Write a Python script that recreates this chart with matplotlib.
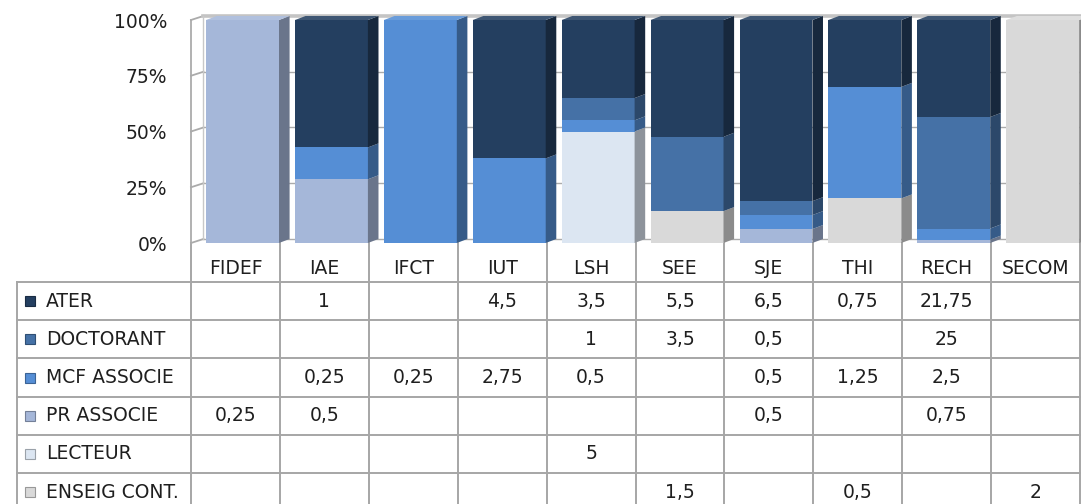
import matplotlib
matplotlib.use("Agg")
import matplotlib.pyplot as plt
from matplotlib.patches import Polygon, Rectangle
import numpy as np

# ---------------- data ----------------
categories = ["FIDEF", "IAE", "IFCT", "IUT", "LSH", "SEE", "SJE", "THI", "RECH", "SECOM"]
series_names = ["ATER", "DOCTORANT", "MCF ASSOCIE", "PR ASSOCIE", "LECTEUR", "ENSEIG CONT."]
ater      = [None, 1, None, 4.5, 3.5, 5.5, 6.5, 0.75, 21.75, None]
doctorant = [None, None, None, None, 1, 3.5, 0.5, None, 25, None]
mcf       = [None, 0.25, 0.25, 2.75, 0.5, None, 0.5, 1.25, 2.5, None]
pr        = [0.25, 0.5, None, None, None, None, 0.5, None, 0.75, None]
lecteur   = [None, None, None, None, 5, None, None, None, None, None]
enseig    = [None, None, None, None, None, 1.5, None, 0.5, None, 2]
series_colors = ["#243F60", "#4571A6", "#558ED5", "#A5B7D9", "#DCE6F2", "#D9D9D9"]
y_ticks = [0, 25, 50, 75, 100]
y_tick_labels = ["0%", "25%", "50%", "75%", "100%"]

series_values = [ater, doctorant, mcf, pr, lecteur, enseig]

# ---------------- helpers ----------------
def shade(hexcol, f):
    c = np.array(matplotlib.colors.to_rgb(hexcol))
    return tuple(np.clip(c * f, 0, 1))

def lighten(hexcol, f):
    c = np.array(matplotlib.colors.to_rgb(hexcol))
    return tuple(c + (1 - c) * f)

def fmt(v):
    if v is None:
        return ""
    s = ("%g" % v)
    return s.replace(".", ",")

W, H = 1081, 504
fig = plt.figure(figsize=(W / 100, H / 100), dpi=100)
fig.patch.set_facecolor("white")

FONT = "DejaVu Sans"
FS = 13.5
TXT = "#1F1F1F"
GRID = "#ABABAB"

# chart area in pixels
x0p, x1p, ytop, ybot = 191, 1080, 20, 243
ax = fig.add_axes([x0p / W, 1 - ybot / H, (x1p - x0p) / W, (ybot - ytop) / H])
ax.set_facecolor("none")
n = len(categories)
ax.set_xlim(-0.5, n - 0.5)
ax.set_ylim(0, 100)
for s in ax.spines.values():
    s.set_visible(False)
ax.set_xticks([])
ax.set_yticks(y_ticks)
ax.set_yticklabels(y_tick_labels, fontsize=FS, family=FONT, color=TXT)
ax.tick_params(axis="y", length=0, pad=17)

dx = 0.14   # depth offset (categories)
dy = 1.8    # depth offset (percent)

# walls / gridlines
for t in y_ticks:
    ax.plot([-0.5, -0.5 + dx], [t, t + dy], color=GRID, lw=1.3, zorder=1, clip_on=False)
    if t < 100:
        ax.plot([-0.5 + dx, n - 0.5], [t + dy, t + dy], color=GRID, lw=1.0, zorder=1, clip_on=False)
ax.plot([-0.5 + dx, n - 0.5], [100 + dy, 100 + dy], color="#C4C4C4", lw=2.6, zorder=1, clip_on=False)
ax.plot([-0.5, -0.5], [0, 100], color=GRID, lw=1.3, zorder=1, clip_on=False)
ax.plot([-0.5 + dx, -0.5 + dx], [dy, 100 + dy], color="#C8C8C8", lw=1.0, zorder=1, clip_on=False)

# bars (100% stacked), bottom series is the last in the list
totals = np.array([sum(v[i] or 0 for v in series_values) for i in range(n)])
front_w = 0.82
front_off = 0.08
bottoms = np.zeros(n)
order = list(range(len(series_values)))[::-1]
for k in order:
    vals = np.array([v if v is not None else 0 for v in series_values[k]], dtype=float)
    pct = vals / totals * 100
    col = series_colors[k]
    xs = np.arange(n) + front_off
    ax.bar(xs, pct, bottom=bottoms, width=front_w, color=col, edgecolor="none",
           zorder=3)
    for i in range(n):
        if pct[i] <= 0:
            continue
        xr = xs[i] + front_w / 2
        b = bottoms[i]
        h = pct[i]
        side = Polygon([(xr, b), (xr + dx * 0.85, b + dy), (xr + dx * 0.85, b + h + dy), (xr, b + h)],
                       closed=True, facecolor=shade(col, 0.64), edgecolor="none",
                       zorder=3, clip_on=False)
        ax.add_patch(side)
        if abs(b + h - 100) < 1e-6:
            xl = xs[i] - front_w / 2
            top = Polygon([(xl, 100), (xl + dx * 0.85, 100 + dy), (xr + dx * 0.85, 100 + dy), (xr, 100)],
                          closed=True, facecolor=lighten(col, 0.12), edgecolor="none",
                          zorder=3, clip_on=False)
            ax.add_patch(top)
    bottoms = bottoms + pct

# ---------------- data table ----------------
tax = fig.add_axes([0, 0, 1, 1])
tax.set_xlim(0, W)
tax.set_ylim(H, 0)
tax.axis("off")
tax.set_zorder(-1)

LINE = "#A6A6A6"
LW = 1.4
head_top = ybot
head_bot = 282
row_h = 38.2
rh_left = 17
col_w = (x1p - x0p) / n
col_edges = [x0p + col_w * k for k in range(n + 1)]

for xe in col_edges:
    tax.plot([xe, xe], [head_top, H], color=LINE, lw=LW)
tax.plot([rh_left, rh_left], [head_bot, H], color=LINE, lw=LW)
for j in range(len(series_names) + 1):
    y = head_bot + j * row_h
    tax.plot([rh_left, x1p], [y, y], color=LINE, lw=LW)

for i, c in enumerate(categories):
    cx = (col_edges[i] + col_edges[i + 1]) / 2
    tax.text(cx, 269, c, ha="center", va="center",
             fontsize=FS, family=FONT, color=TXT)

for j, name in enumerate(series_names):
    cy = head_bot + (j + 0.5) * row_h
    col = series_colors[j]
    tax.add_patch(Rectangle((25, cy - 5), 10, 10, facecolor=col,
                            edgecolor=shade(col, 0.7), lw=0.8))
    tax.text(46, cy, name, ha="left", va="center", fontsize=FS, family=FONT, color=TXT)
    for i in range(n):
        s = fmt(series_values[j][i])
        if s:
            cx = (col_edges[i] + col_edges[i + 1]) / 2
            tax.text(cx, cy, s, ha="center", va="center", fontsize=FS,
                     family=FONT, color=TXT)

fig.savefig("out.png", dpi=100)
